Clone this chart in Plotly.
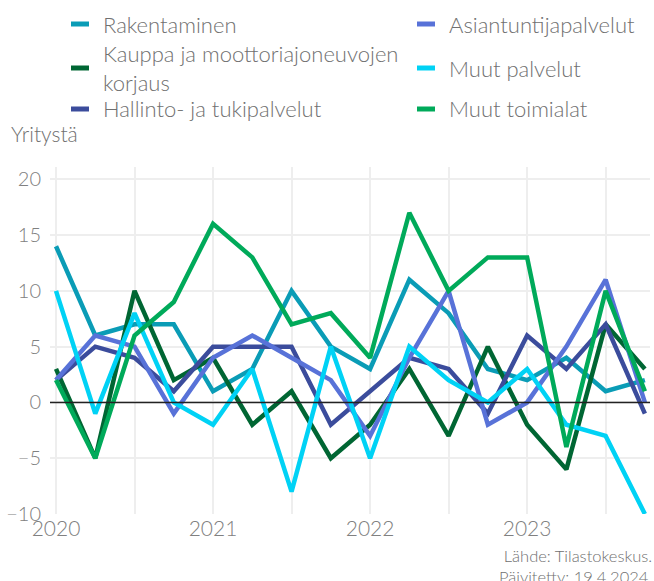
import plotly.graph_objects as go

# Quarterly observations 2020Q1 - 2023Q4
quarters = ["2020Q1", "2020Q2", "2020Q3", "2020Q4",
            "2021Q1", "2021Q2", "2021Q3", "2021Q4",
            "2022Q1", "2022Q2", "2022Q3", "2022Q4",
            "2023Q1", "2023Q2", "2023Q3", "2023Q4"]

rakentaminen = [14, 6, 7, 7, 1, 3, 10, 5, 3, 11, 8, 3, 2, 4, 1, 2]
kauppa = [3, -5, 10, 2, 4, -2, 1, -5, -2, 3, -3, 5, -2, -6, 7, 3]
hallinto = [2, 5, 4, 1, 5, 5, 5, -2, 1, 4, 3, -1, 6, 3, 7, -1]
asiantuntija = [2, 6, 5, -1, 4, 6, 4, 2, -3, 4, 10, -2, 0, 5, 11, 0]
muut_palvelut = [10, -1, 8, 0, -2, 3, -8, 5, -5, 5, 2, 0, 3, -2, -3, -10]
muut_toimialat = [2, -5, 6, 9, 16, 13, 7, 8, 4, 17, 10, 13, 13, -4, 10, 1]

year_labels = ["2020", "2021", "2022", "2023"]

series = [
    ("Rakentaminen", rakentaminen, "#0a9cb6"),
    ("Kauppa ja moottoriajoneuvojen<br>korjaus", kauppa, "#006633"),
    ("Hallinto- ja tukipalvelut", hallinto, "#3b4c9c"),
    ("Asiantuntijapalvelut", asiantuntija, "#5872d8"),
    ("Muut palvelut", muut_palvelut, "#00d2f5"),
    ("Muut toimialat", muut_toimialat, "#00aa5a"),
]

FONT = "Lato"
TEXT_GRAY = "#707070"

x = list(range(len(quarters)))

fig = go.Figure()
for name, values, color in series:
    fig.add_trace(go.Scatter(
        x=x, y=values, mode="lines", name=name,
        line=dict(color=color, width=4.5),
        showlegend=False,
        customdata=quarters,
        hovertemplate="%{customdata}: %{y}<extra>" + name + "</extra>",
    ))

# Two-column legend drawn with shapes and labels
legend_cols = [[0, 1, 2], [3, 4, 5]]
col_x = [71, 417]
row_y = [24, 68, 109]
W, H = 654, 581
shapes = []
annotations = []
for c, idxs in enumerate(legend_cols):
    for r, i in enumerate(idxs):
        name, _, color = series[i]
        yy = row_y[r]
        shapes.append(dict(
            type="rect", xref="paper", yref="paper",
            x0=(col_x[c] - 50) / 600, x1=(col_x[c] + 18 - 50) / 600,
            y0=(514 - yy - 2.5) / 347, y1=(514 - yy + 2.5) / 347,
            fillcolor=color, line=dict(width=0), layer="above",
        ))
        annotations.append(dict(
            xref="paper", yref="paper",
            x=(col_x[c] + 30 - 50) / 600, y=(514 - yy) / 347,
            xanchor="left", yanchor="middle", align="left",
            text=name, showarrow=False,
            font=dict(family=FONT, size=22, color=TEXT_GRAY, weight=300),
        ))

# Reference line at zero, drawn above the series
shapes.append(dict(type="line", xref="paper", yref="y", x0=0, x1=1, y0=0, y1=0,
                   line=dict(color="#222222", width=1.5), layer="above"))

annotations.append(dict(
    xref="paper", yref="paper", x=(9 - 50) / 600, y=(514 - 133) / 347,
    xanchor="left", yanchor="middle", text="Yritystä", showarrow=False,
    font=dict(family=FONT, size=21, color=TEXT_GRAY, weight=300),
))
annotations.append(dict(
    xref="paper", yref="paper", x=(654 - 50) / 600, y=(514 - 566) / 347,
    xanchor="right", yanchor="middle", align="right",
    text="Lähde: Tilastokeskus.<br>Päivitetty: 19.4.2024.", showarrow=False,
    font=dict(family=FONT, size=16.5, color=TEXT_GRAY, weight=300),
))

tickvals = list(range(0, 16, 2))
ticktext = []
for k in range(len(tickvals)):
    ticktext.append(year_labels[k // 2] if k % 2 == 0 else "")

fig.update_layout(
    width=W, height=H,
    margin=dict(l=50, r=4, t=167, b=67),
    paper_bgcolor="white", plot_bgcolor="white",
    font=dict(family=FONT, size=20, color=TEXT_GRAY),
    shapes=shapes, annotations=annotations,
    xaxis=dict(
        range=[-0.153, 15.13], tickvals=tickvals, ticktext=ticktext,
        showgrid=True, gridcolor="#eeeeee", gridwidth=1.5,
        zeroline=False, showline=False, ticks="",
        tickfont=dict(family=FONT, size=21, color="#808080", weight=300),
    ),
    yaxis=dict(
        range=[-10, 21.1], tickvals=[-10, -5, 0, 5, 10, 15, 20],
        showgrid=True, gridcolor="#eeeeee", gridwidth=1.5,
        zeroline=False, showline=False, ticks="",
        ticklabelstandoff=8,
        tickfont=dict(family=FONT, size=20, color="#808080", weight=300),
    ),
)

fig.write_html("out.html")
